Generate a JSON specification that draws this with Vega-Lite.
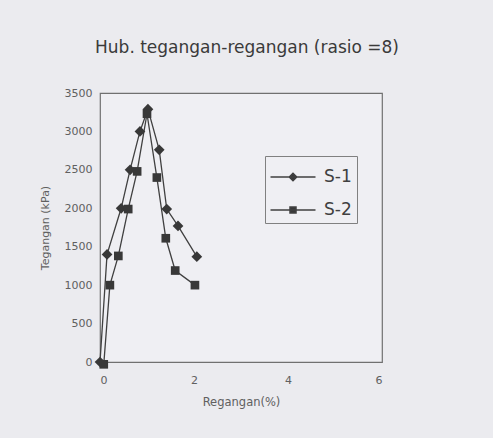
{
  "$schema": "https://vega.github.io/schema/vega-lite/v6.json",
  "width": 282,
  "height": 269,
  "autosize": "none",
  "padding": {"left": 100, "top": 93, "right": 111, "bottom": 76},
  "background": "#ebebef",
  "config": {
    "font": "DejaVu Sans",
    "view": {"stroke": "#707070", "strokeWidth": 1.2, "fill": "#efeff3"}
  },
  "title": {
    "text": "Hub. tegangan-regangan (rasio =8)",
    "fontSize": 17,
    "fontWeight": "normal",
    "color": "#3a3a3a",
    "anchor": "middle",
    "frame": "group",
    "baseline": "alphabetic",
    "offset": 17,
    "dx": 6
  },
  "data": {
    "values": [
      {"series": "S-1", "ord": 0, "regangan": 0.0, "tegangan": 0},
      {"series": "S-1", "ord": 1, "regangan": 0.15, "tegangan": 1400},
      {"series": "S-1", "ord": 2, "regangan": 0.45, "tegangan": 2000},
      {"series": "S-1", "ord": 3, "regangan": 0.64, "tegangan": 2500},
      {"series": "S-1", "ord": 4, "regangan": 0.85, "tegangan": 3000},
      {"series": "S-1", "ord": 5, "regangan": 1.02, "tegangan": 3290},
      {"series": "S-1", "ord": 6, "regangan": 1.26, "tegangan": 2760},
      {"series": "S-1", "ord": 7, "regangan": 1.42, "tegangan": 1990},
      {"series": "S-1", "ord": 8, "regangan": 1.66, "tegangan": 1770},
      {"series": "S-1", "ord": 9, "regangan": 2.06, "tegangan": 1370},
      {"series": "S-2", "ord": 0, "regangan": 0.08, "tegangan": -30},
      {"series": "S-2", "ord": 1, "regangan": 0.21, "tegangan": 1000},
      {"series": "S-2", "ord": 2, "regangan": 0.39, "tegangan": 1380},
      {"series": "S-2", "ord": 3, "regangan": 0.6, "tegangan": 1990},
      {"series": "S-2", "ord": 4, "regangan": 0.79, "tegangan": 2480},
      {"series": "S-2", "ord": 5, "regangan": 1.0, "tegangan": 3230},
      {"series": "S-2", "ord": 6, "regangan": 1.21, "tegangan": 2400},
      {"series": "S-2", "ord": 7, "regangan": 1.4, "tegangan": 1610},
      {"series": "S-2", "ord": 8, "regangan": 1.6, "tegangan": 1190},
      {"series": "S-2", "ord": 9, "regangan": 2.02, "tegangan": 1000}
    ]
  },
  "encoding": {
    "x": {
      "field": "regangan", "type": "quantitative",
      "scale": {"domain": [0, 6], "nice": false, "zero": false},
      "axis": {
        "title": "Regangan(%)", "values": [0, 2, 4, 6], "format": "d", "grid": false, "domain": false, "ticks": false,
        "labelFontSize": 11, "labelColor": "#606060", "labelPadding": 12,
        "titleFontSize": 11.5, "titleFontWeight": "normal", "titleColor": "#606060", "titlePadding": 11
      }
    },
    "y": {
      "field": "tegangan", "type": "quantitative",
      "scale": {"domain": [0, 3500], "nice": false, "zero": false},
      "axis": {
        "title": "Tegangan (kPa)", "values": [0, 500, 1000, 1500, 2000, 2500, 3000, 3500], "format": "d", "grid": false, "domain": false, "ticks": false,
        "labelFontSize": 11, "labelColor": "#606060", "labelPadding": 8,
        "titleFontSize": 11, "titleFontWeight": "normal", "titleColor": "#606060", "titlePadding": 14
      }
    }
  },
  "layer": [
    {
      "mark": {"type": "line", "strokeWidth": 1.3, "clip": false},
      "encoding": {
        "stroke": {
          "field": "series", "type": "nominal",
          "scale": {"domain": ["S-1", "S-2"], "range": ["#404040", "#404040"]},
          "legend": {
            "title": null,
            "orient": "none",
            "legendX": 165,
            "legendY": 63,
            "padding": 5,
            "strokeColor": "#808080",
            "fillColor": "#efeff3",
            "symbolType": "M-1.5,0H1.5M-0.25,0L0,-0.25L0.25,0L0,0.25Z",
            "symbolSize": 900,
            "symbolOffset": 7,
            "symbolStrokeWidth": 1.5,
            "symbolFillColor": "#383838",
            "labelOffset": 15,
            "labelFontSize": 17,
            "labelColor": "#404040",
            "rowPadding": 9,
            "encode": {
              "symbols": {
                "update": {
                  "fill": {"value": "#383838"},
                  "shape": {"signal": "datum.value == 'S-1' ? 'M-1.5,0H1.5M-0.25,0L0,-0.25L0.25,0L0,0.25Z' : 'M-1.5,0H1.5M-0.2,-0.2H0.2V0.2H-0.2Z'"}
                }
              }
            }
          }
        },
        "detail": {"field": "series", "type": "nominal"},
        "order": {"field": "ord", "type": "quantitative"}
      }
    },
    {
      "transform": [{"filter": "datum.series == 'S-1'"}],
      "mark": {"type": "point", "shape": "diamond", "filled": true, "color": "#383838", "opacity": 1, "size": 115, "clip": false}
    },
    {
      "transform": [{"filter": "datum.series == 'S-2'"}],
      "mark": {"type": "point", "shape": "square", "filled": true, "color": "#383838", "opacity": 1, "size": 75, "clip": false}
    }
  ]
}
